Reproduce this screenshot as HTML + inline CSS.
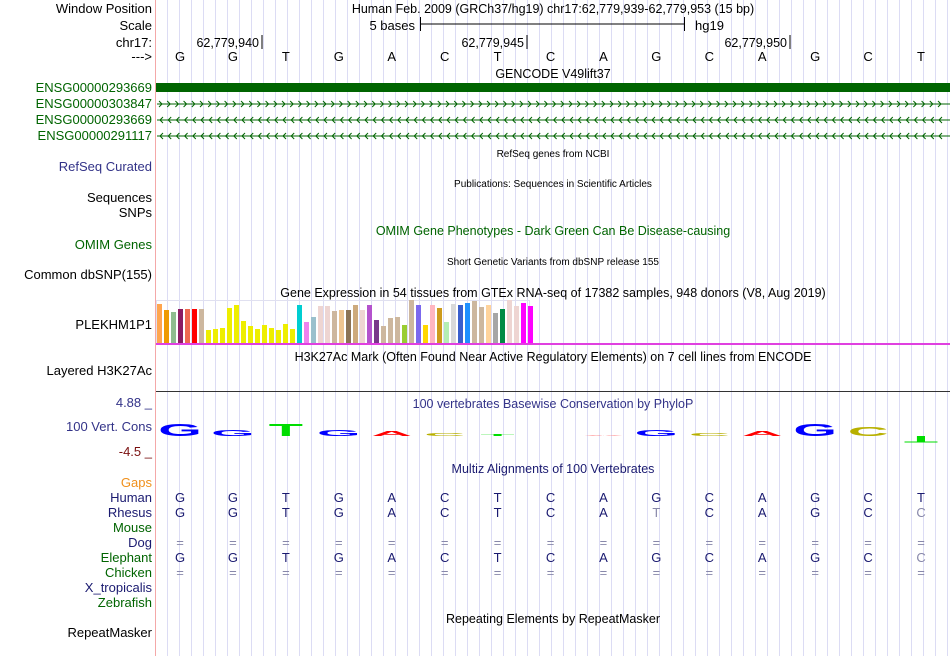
<!DOCTYPE html>
<html><head><meta charset="utf-8"><style>
body{margin:0;background:#fff}
svg{display:block;font-family:"Liberation Sans",sans-serif}
.l{font-size:13px;text-anchor:end}
.t{font-size:12.5px;text-anchor:middle}
.s{font-size:10px;text-anchor:middle}
</style></head><body>
<svg id="pg" width="950" height="656" viewBox="0 0 950 656">
<g id="grid"></g>
<line x1="155.5" y1="0" x2="155.5" y2="656" stroke="#f4a8a8"/>
<g>
<text class="l" x="152" y="13">Window Position</text>
<text class="t" x="553" y="13" font-size="13">Human Feb. 2009 (GRCh37/hg19)   chr17:62,779,939-62,779,953 (15 bp)</text>
<text class="l" x="152" y="30">Scale</text>
<text x="415" y="30" font-size="13" text-anchor="end">5 bases</text>
<line x1="420" y1="24" x2="685" y2="24" stroke="#000"/><line x1="420.5" y1="17" x2="420.5" y2="31" stroke="#000"/><line x1="684.5" y1="17" x2="684.5" y2="31" stroke="#000"/>
<text x="695" y="30" font-size="13">hg19</text>
<text class="l" x="152" y="47">chr17:</text>
<text x="259" y="47" font-size="12.5" text-anchor="end">62,779,940</text><line x1="262" y1="35" x2="262" y2="49" stroke="#000"/>
<text x="524" y="47" font-size="12.5" text-anchor="end">62,779,945</text><line x1="527" y1="35" x2="527" y2="49" stroke="#000"/>
<text x="787" y="47" font-size="12.5" text-anchor="end">62,779,950</text><line x1="790" y1="35" x2="790" y2="49" stroke="#000"/>
<text class="l" x="152" y="61">---&gt;</text>
<g id="bases"></g>
</g>
<g>
<text class="t" x="553" y="78">GENCODE V49lift37</text>
<rect x="156" y="83" width="794" height="9" fill="#006400"/>
<text class="l" x="152" y="92" fill="#006400">ENSG00000293669</text>
<text class="l" x="152" y="108" fill="#006400">ENSG00000303847</text>
<text class="l" x="152" y="124" fill="#006400">ENSG00000293669</text>
<text class="l" x="152" y="140" fill="#006400">ENSG00000291117</text>
<g id="introns"></g>
</g>
<text class="s" x="553" y="157">RefSeq genes from NCBI</text>
<text class="l" x="152" y="171" fill="#333388">RefSeq Curated</text>
<text class="s" x="553" y="187">Publications: Sequences in Scientific Articles</text>
<text class="l" x="152" y="202">Sequences</text>
<text class="l" x="152" y="217">SNPs</text>
<text class="t" x="553" y="235" fill="#006400">OMIM Gene Phenotypes - Dark Green Can Be Disease-causing</text>
<text class="l" x="152" y="249" fill="#006400">OMIM Genes</text>
<text class="s" x="553" y="265">Short Genetic Variants from dbSNP release 155</text>
<text class="l" x="152" y="279">Common dbSNP(155)</text>
<text class="t" x="553" y="297">Gene Expression in 54 tissues from GTEx RNA-seq of 17382 samples, 948 donors (V8, Aug 2019)</text>
<text class="l" x="152" y="329">PLEKHM1P1</text>
<rect x="156.5" y="300.5" width="373" height="43" fill="none" stroke="#e0e0f0"/>
<g id="gtex"></g>
<rect x="156" y="343" width="794" height="2" fill="#e040e0"/>
<text class="t" x="553" y="361">H3K27Ac Mark (Often Found Near Active Regulatory Elements) on 7 cell lines from ENCODE</text>
<text class="l" x="152" y="375">Layered H3K27Ac</text>
<line x1="156" y1="391.5" x2="950" y2="391.5" stroke="#333"/>
<text class="l" x="152" y="407" fill="#333388" font-size="12">4.88 _</text>
<text class="t" x="553" y="408" fill="#333388">100 vertebrates Basewise Conservation by PhyloP</text>
<text class="l" x="152" y="431" fill="#333388" font-size="12">100 Vert. Cons</text>
<text class="l" x="152" y="456" fill="#7a1010" font-size="12">-4.5 _</text>
<g id="logo"></g>
<text class="t" x="553" y="473" fill="#1a1a70">Multiz Alignments of 100 Vertebrates</text>
<g id="multiz"></g>
<text class="t" x="553" y="623">Repeating Elements by RepeatMasker</text>
<text class="l" x="152" y="637">RepeatMasker</text>
</svg>
<script>
const NS='http://www.w3.org/2000/svg';
const bases=['G','G','T','G','A','C','T','C','A','G','C','A','G','C','T'];
const gtexValues=[39,33,31,34,34,34,34,13,14,15,35,38,22,17,14,18,15,13,19,14,38,21,26,37,37,32,33,33,38,33,38,23,17,25,26,18,43,38,18,38,35,21,39,38,40,42,36,38,30,34,43,37,40,37];
const gtexColors=['#FFA54F','#EE9A00','#8FBC8F','#8B1C62','#EE6A50','#FF0000','#CDB79E','#EEEE00','#EEEE00','#EEEE00','#EEEE00','#EEEE00','#EEEE00','#EEEE00','#EEEE00','#EEEE00','#EEEE00','#EEEE00','#EEEE00','#EEEE00','#00CED1','#EE82EE','#9AC0CD','#EED5D2','#EED5D2','#CDB79E','#EEC591','#8B7355','#CDAA7D','#EED5D2','#B452CD','#7A378B','#CDB79E','#CDB79E','#CDB79E','#9ACD32','#CDB79E','#7B68EE','#FFD700','#FFB6C1','#CD9B1D','#B4EEB4','#D9D9D9','#3A5FCD','#1E90FF','#CDB79E','#CDB79E','#FFD39B','#A6A6A6','#008B45','#EED5D2','#EED5D2','#FF00FF','#FF00FF'];
const consValues=[4.6,2.2,4.6,2.2,1.9,1.1,0.6,0,0.2,2.2,1.1,1.9,4.6,3.4,-2.3];
const speciesNames=['Gaps','Human','Rhesus','Mouse','Dog','Elephant','Chicken','X_tropicalis','Zebrafish'];
const speciesColors=['#f0901c','#1a1a70','#1a1a70','#006400','#1a1a70','#006400','#006400','#1a1a70','#006400'];
const alignRhesus='GGTGACTCATCAGCC';
const alignElephant='GGTGACTCAGCAGCC';
const dimRhesus=[9,14];const dimElephant=[14];
const baseX=i=>180+52.93*i;
function mk(t,a,p){const e=document.createElementNS(NS,t);for(const k in a)e.setAttribute(k,a[k]);(p||document.getElementById('pg')).appendChild(e);return e;}
const grid=document.getElementById('grid');
for(let x=167;x<950;x+=12){const l=mk('line',{x1:x+.5,y1:0,x2:x+.5,y2:656,stroke:'#dcdcf4'},grid);

}
const bg=document.getElementById('bases');
bases.forEach((b,i)=>{const t=mk('text',{x:baseX(i),y:61,'font-size':13,'text-anchor':'middle'},bg);t.textContent=b;

});
const ig=document.getElementById('introns');
[[104,1],[120,-1],[136,-1]].forEach(([y,d])=>{mk('line',{x1:157,y1:y,x2:950,y2:y,stroke:'#006400'},ig);
let p='';for(let x=161;x<948;x+=8.2){p+=d>0?`M${x-2},${y-3}L${x+1},${y}L${x-2},${y+3}`:`M${x+2},${y-3}L${x-1},${y}L${x+2},${y+3}`;}
const pa=mk('path',{d:p,stroke:'#006400',fill:'none','stroke-width':1},ig);

});
const gg=document.getElementById('gtex');
const gy=v=>343-v;
gtexValues.forEach((v,i)=>{const r=mk('rect',{x:157+7*i,y:gy(v),width:5,height:v,fill:gtexColors[i]},gg);

});
const lg=document.getElementById('logo');
const lcol={G:'#0000ff',T:'#00dd00',A:'#ff0000',C:'#b8b000'};
const cy=v=>436-v*2.8;
consValues.forEach((v,i)=>{if(v===0)return;const h=Math.abs(cy(v)-436);const b=bases[i];
const t=mk('text',{'font-size':10,'font-weight':'bold',fill:lcol[b],'text-anchor':'middle',
transform:v>0?`translate(${baseX(i)},436) scale(5.6,${h/7.2})`:`translate(${baseX(i)},436) scale(5.6,${-h/7.2})`},lg);
t.textContent=b;

});
const mg=document.getElementById('multiz');
speciesNames.forEach((n,r)=>{const y=487+15*r;const t=mk('text',{x:152,y:y,'font-size':13,'text-anchor':'end',fill:speciesColors[r]},mg);t.textContent=n;


let seq=null,dim=[];
if(n==='Human')seq=bases.join('');else if(n==='Rhesus'){seq=alignRhesus;dim=dimRhesus;}else if(n==='Elephant'){seq=alignElephant;dim=dimElephant;}else if(n==='Dog'||n==='Chicken')seq='===============';
if(seq)[...seq].forEach((c,i)=>{const tt=mk('text',{x:baseX(i),y:y,'font-size':13,'text-anchor':'middle',fill:(c==='='||dim.includes(i))?'#8888aa':'#1a1a70'},mg);tt.textContent=c;

});});
</script>
</body></html>
